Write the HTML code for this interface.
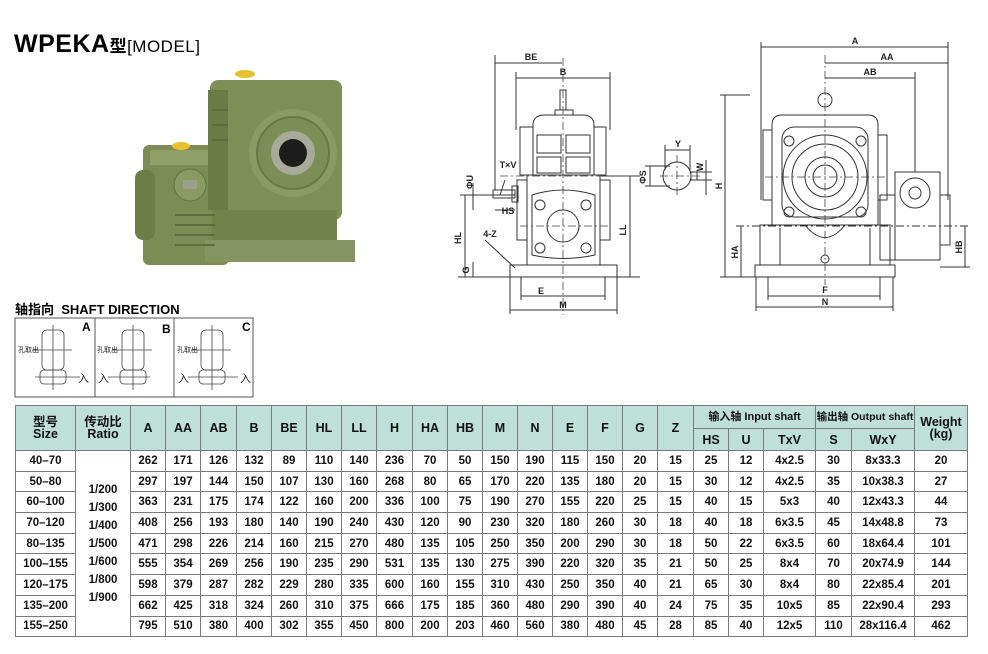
<!DOCTYPE html>
<html><head><meta charset="utf-8"><style>
body{margin:0;background:#fff;width:988px;height:654px;position:relative;overflow:hidden;font-family:"Liberation Sans","Noto Sans CJK SC",sans-serif;}
.t{position:absolute;}
table{position:absolute;left:15px;top:405px;border-collapse:collapse;table-layout:fixed;font-weight:bold;font-size:11.5px;color:#111;}
td{border:1px solid #7a7a7a;text-align:center;padding:0;height:19.7px;line-height:12px;}
tr.h td{background:#bfe0d8;font-size:12.5px;}
tr.h1 td{height:22px;}
tr.h2 td{height:21px;}
</style></head><body>
<div class="t" style="left:14px;top:30px;font-size:25px;font-weight:900;letter-spacing:0.5px;">WPEKA<span style="font-size:17px;font-weight:bold;">型</span><span style="font-size:17px;font-weight:normal;">[MODEL]</span></div>
<div class="t" style="left:15px;top:299px;font-size:13px;font-weight:bold;">轴指向&nbsp; SHAFT DIRECTION</div>

<svg class="t" style="left:0;top:0" width="988" height="400" viewBox="0 0 988 400">
<!-- photo -->
<g>
<rect x="143" y="145" width="86" height="120" rx="6" fill="#7d8c55"/>
<rect x="135" y="170" width="20" height="70" rx="8" fill="#6e7d48"/>
<rect x="150" y="150" width="75" height="15" fill="#90a066"/>
<rect x="210" y="80" width="132" height="140" rx="8" fill="#7e8e56"/>
<rect x="208" y="90" width="20" height="120" fill="#6c7a45"/>
<rect x="212" y="210" width="125" height="50" fill="#74834c"/>
<rect x="205" y="240" width="150" height="22" fill="#849460"/>
<circle cx="293" cy="153" r="44" fill="#8a9a62"/>
<circle cx="293" cy="153" r="36" fill="#7d8d56" stroke="#6a7844" stroke-width="2"/>
<circle cx="293" cy="153" r="22" fill="#a8ab9a"/>
<circle cx="293" cy="153" r="14" fill="#1d1d1a"/>
<circle cx="190" cy="185" r="16" fill="#8a9a62" stroke="#64723f"/>
<rect x="183" y="180" width="14" height="9" fill="#9b9f8c"/>
<g stroke="#5f6d3c" stroke-width="2"><line x1="175" y1="215" x2="215" y2="215"/><line x1="175" y1="225" x2="215" y2="225"/><line x1="175" y1="235" x2="215" y2="235"/><line x1="175" y1="245" x2="215" y2="245"/><line x1="212" y1="110" x2="228" y2="110"/><line x1="212" y1="125" x2="228" y2="125"/><line x1="212" y1="140" x2="228" y2="140"/></g>
<ellipse cx="245" cy="74" rx="10" ry="4" fill="#e8c030"/>
<ellipse cx="181" cy="146" rx="9" ry="4" fill="#e8c030"/>
</g>

<g fill="none" stroke="#333" stroke-width="1">
<!-- front view -->
<path d="M533 175 V125 Q533 115 545 115 H582 Q594 115 594 125 V175"/>
<rect x="555" y="110" width="18" height="5"/>
<rect x="560" y="90" width="6" height="20"/>
<rect x="520" y="127" width="13" height="48"/><rect x="594" y="127" width="12" height="48"/>
<rect x="537" y="135" width="24" height="18"/><rect x="566" y="135" width="24" height="18"/>
<rect x="537" y="157" width="24" height="16"/><rect x="566" y="157" width="24" height="16"/>
<rect x="527" y="175" width="73" height="90"/>
<rect x="517" y="180" width="10" height="60"/><rect x="600" y="180" width="10" height="60"/>
<path d="M532 195 Q563 185 595 195 V255 Q563 262 532 255 Z"/>
<circle cx="563" cy="226" r="16"/>
<circle cx="540" cy="205" r="5"/><circle cx="586" cy="205" r="5"/><circle cx="540" cy="248" r="5"/><circle cx="586" cy="248" r="5"/>
<rect x="493" y="190" width="22" height="8"/><rect x="512" y="186" width="6" height="16"/>
<rect x="510" y="265" width="107" height="12"/>
<!-- dims front -->
<line x1="495" y1="63" x2="562" y2="63"/><line x1="495" y1="55" x2="495" y2="190"/>
<line x1="516" y1="78" x2="610" y2="78"/><line x1="516" y1="72" x2="516" y2="130"/><line x1="610" y1="72" x2="610" y2="130"/>
<line x1="465" y1="195" x2="465" y2="277"/><line x1="460" y1="195" x2="515" y2="195"/>
<line x1="458" y1="277" x2="640" y2="277"/><line x1="630" y1="176" x2="630" y2="277"/><line x1="600" y1="176" x2="640" y2="176"/>
<line x1="521" y1="296" x2="605" y2="296"/><line x1="521" y1="277" x2="521" y2="300"/><line x1="605" y1="277" x2="605" y2="300"/>
<line x1="510" y1="310" x2="617" y2="310"/><line x1="510" y1="277" x2="510" y2="314"/><line x1="617" y1="277" x2="617" y2="314"/>
<line x1="473" y1="183" x2="473" y2="210"/><line x1="495" y1="210" x2="515" y2="210"/><line x1="485" y1="240" x2="515" y2="268"/><line x1="505" y1="180" x2="500" y2="195"/>
<line x1="473" y1="262" x2="473" y2="277"/>
<!-- key sketch -->
<circle cx="677" cy="176" r="14"/><rect x="691" y="172" width="6" height="8"/>
<line x1="665" y1="150" x2="690" y2="150"/><line x1="665" y1="145" x2="665" y2="170"/><line x1="690" y1="145" x2="690" y2="170"/>
<line x1="645" y1="166" x2="670" y2="166"/><line x1="645" y1="186" x2="670" y2="186"/><line x1="650" y1="166" x2="650" y2="186"/>
<line x1="706" y1="160" x2="706" y2="195"/><line x1="697" y1="172" x2="712" y2="172"/><line x1="697" y1="180" x2="712" y2="180"/>
<line x1="720" y1="95" x2="750" y2="95"/><line x1="725" y1="95" x2="725" y2="277"/><line x1="720" y1="277" x2="760" y2="277"/>
<!-- side view -->
<circle cx="825" cy="100" r="7"/>
<path d="M772 225 V125 Q772 115 782 115 H868 Q878 115 878 125 V225"/>
<rect x="763" y="130" width="9" height="70"/><rect x="878" y="135" width="9" height="65"/>
<rect x="782" y="127" width="86" height="90" rx="12"/>
<circle cx="825" cy="177" r="42"/><circle cx="825" cy="177" r="33"/><circle cx="825" cy="177" r="20"/><circle cx="825" cy="177" r="12"/>
<circle cx="789" cy="141" r="5"/><circle cx="861" cy="141" r="5"/><circle cx="789" cy="212" r="5"/><circle cx="861" cy="212" r="5"/>
<rect x="760" y="225" width="130" height="40"/><rect x="755" y="265" width="140" height="12"/>
<path d="M805 225 Q825 250 845 225"/><circle cx="825" cy="259" r="4"/>
<line x1="780" y1="228" x2="780" y2="265"/><line x1="870" y1="228" x2="870" y2="265"/>
<rect x="880" y="195" width="15" height="65"/>
<rect x="895" y="172" width="45" height="88"/><rect x="940" y="195" width="10" height="50"/>
<circle cx="915" cy="193" r="15"/><circle cx="915" cy="193" r="6"/>
<line x1="761" y1="47" x2="948" y2="47"/><line x1="761" y1="42" x2="761" y2="200"/><line x1="948" y1="42" x2="948" y2="200"/>
<line x1="825" y1="63" x2="948" y2="63"/><line x1="825" y1="78" x2="915" y2="78"/><line x1="915" y1="72" x2="915" y2="172"/>
<line x1="741" y1="226" x2="741" y2="277"/><line x1="736" y1="226" x2="970" y2="226" stroke-dasharray="8 3 2 3"/>
<line x1="965" y1="226" x2="965" y2="267"/><line x1="940" y1="267" x2="970" y2="267"/>
<line x1="768" y1="296" x2="880" y2="296"/><line x1="768" y1="277" x2="768" y2="300"/><line x1="880" y1="277" x2="880" y2="300"/>
<line x1="756" y1="307" x2="893" y2="307"/><line x1="756" y1="277" x2="756" y2="311"/><line x1="893" y1="277" x2="893" y2="311"/>
</g>
<g stroke="#444" stroke-width="0.8" stroke-dasharray="8 3 2 3" fill="none">
<line x1="563" y1="58" x2="563" y2="315"/><line x1="500" y1="176" x2="640" y2="176"/><line x1="520" y1="226" x2="610" y2="226"/>
<line x1="677" y1="155" x2="677" y2="198"/><line x1="660" y1="176" x2="700" y2="176"/>
<line x1="825" y1="55" x2="825" y2="285"/><line x1="765" y1="177" x2="885" y2="177"/>
</g>
<g font-family="Liberation Sans,sans-serif" font-size="9" font-weight="bold" fill="#222" text-anchor="middle">
<text x="531" y="60">BE</text><text x="563" y="75">B</text><text x="508" y="168">T×V</text><text x="508" y="214">HS</text>
<text x="490" y="237">4-Z</text><text x="541" y="294">E</text><text x="563" y="308">M</text><text x="678" y="147">Y</text>
<text x="855" y="44">A</text><text x="887" y="60">AA</text><text x="870" y="75">AB</text><text x="825" y="293">F</text><text x="825" y="305">N</text>
<text transform="translate(461,238) rotate(-90)">HL</text><text transform="translate(626,230) rotate(-90)">LL</text>
<text transform="translate(469,270) rotate(-90)">G</text><text transform="translate(473,182) rotate(-90)">ΦU</text>
<text transform="translate(646,177) rotate(-90)">ΦS</text><text transform="translate(703,167) rotate(-90)">W</text>
<text transform="translate(722,186) rotate(-90)">H</text><text transform="translate(738,252) rotate(-90)">HA</text><text transform="translate(962,247) rotate(-90)">HB</text>
</g>
<!-- shaft direction -->
<rect x="15" y="318" width="238" height="79" fill="none" stroke="#555"/>
<line x1="95" y1="318" x2="95" y2="397" stroke="#555"/><line x1="174" y1="318" x2="174" y2="397" stroke="#555"/>
<g font-family="Liberation Sans,sans-serif" font-size="12" font-weight="bold"><text x="82" y="331">A</text><text x="162" y="333">B</text><text x="242" y="331">C</text></g>
<g fill="none" stroke="#444" stroke-width="0.8">
<rect x="42" y="330" width="22" height="40" rx="5"/><rect x="40" y="370" width="26" height="14" rx="4"/><line x1="32" y1="350" x2="72" y2="350"/><line x1="53" y1="325" x2="53" y2="390"/><line x1="35" y1="377" x2="80" y2="377"/>
<rect x="122" y="330" width="22" height="40" rx="5"/><rect x="120" y="370" width="26" height="14" rx="4"/><line x1="112" y1="350" x2="152" y2="350"/><line x1="133" y1="325" x2="133" y2="390"/><line x1="108" y1="377" x2="150" y2="377"/>
<rect x="201" y="330" width="22" height="40" rx="5"/><rect x="199" y="370" width="26" height="14" rx="4"/><line x1="191" y1="350" x2="231" y2="350"/><line x1="212" y1="325" x2="212" y2="390"/><line x1="188" y1="377" x2="238" y2="377"/>
</g>
<g font-family="Liberation Sans,Noto Sans CJK SC,sans-serif" font-size="7" fill="#222"><text x="18" y="352">孔取出</text><text x="97" y="352">孔取出</text><text x="177" y="352">孔取出</text></g>
<g font-family="Liberation Sans,Noto Sans CJK SC,sans-serif" font-size="11" fill="#222"><text x="78" y="382">入</text><text x="98" y="382">入</text><text x="178" y="382">入</text><text x="240" y="382">入</text></g>
</svg>

<table>
<colgroup><col style="width:60px"><col style="width:55px"><col style="width:35px"><col style="width:35px"><col style="width:36px"><col style="width:35px"><col style="width:35px"><col style="width:35px"><col style="width:35px"><col style="width:36px"><col style="width:35px"><col style="width:35px"><col style="width:35px"><col style="width:35px"><col style="width:35px"><col style="width:35px"><col style="width:35px"><col style="width:36px"><col style="width:35px"><col style="width:35px"><col style="width:52px"><col style="width:36px"><col style="width:63px"><col style="width:53px"></colgroup>
<tr class="h h1"><td rowspan="2">型号<br>Size</td><td rowspan="2">传动比<br>Ratio</td><td rowspan="2">A</td><td rowspan="2">AA</td><td rowspan="2">AB</td><td rowspan="2">B</td><td rowspan="2">BE</td><td rowspan="2">HL</td><td rowspan="2">LL</td><td rowspan="2">H</td><td rowspan="2">HA</td><td rowspan="2">HB</td><td rowspan="2">M</td><td rowspan="2">N</td><td rowspan="2">E</td><td rowspan="2">F</td><td rowspan="2">G</td><td rowspan="2">Z</td><td colspan="3" style="font-size:11px">输入轴 Input shaft</td><td colspan="2" style="font-size:10.5px">输出轴 Output shaft</td><td rowspan="2">Weight<br>(kg)</td></tr>
<tr class="h h2"><td>HS</td><td>U</td><td>TxV</td><td>S</td><td>WxY</td></tr>
<tr><td>40–70</td><td rowspan="9" style="vertical-align:middle;line-height:18px;padding-top:0">1/200<br>1/300<br>1/400<br>1/500<br>1/600<br>1/800<br>1/900</td><td>262</td><td>171</td><td>126</td><td>132</td><td>89</td><td>110</td><td>140</td><td>236</td><td>70</td><td>50</td><td>150</td><td>190</td><td>115</td><td>150</td><td>20</td><td>15</td><td>25</td><td>12</td><td>4x2.5</td><td>30</td><td>8x33.3</td><td>20</td></tr>
<tr><td>50–80</td><td>297</td><td>197</td><td>144</td><td>150</td><td>107</td><td>130</td><td>160</td><td>268</td><td>80</td><td>65</td><td>170</td><td>220</td><td>135</td><td>180</td><td>20</td><td>15</td><td>30</td><td>12</td><td>4x2.5</td><td>35</td><td>10x38.3</td><td>27</td></tr>
<tr><td>60–100</td><td>363</td><td>231</td><td>175</td><td>174</td><td>122</td><td>160</td><td>200</td><td>336</td><td>100</td><td>75</td><td>190</td><td>270</td><td>155</td><td>220</td><td>25</td><td>15</td><td>40</td><td>15</td><td>5x3</td><td>40</td><td>12x43.3</td><td>44</td></tr>
<tr><td>70–120</td><td>408</td><td>256</td><td>193</td><td>180</td><td>140</td><td>190</td><td>240</td><td>430</td><td>120</td><td>90</td><td>230</td><td>320</td><td>180</td><td>260</td><td>30</td><td>18</td><td>40</td><td>18</td><td>6x3.5</td><td>45</td><td>14x48.8</td><td>73</td></tr>
<tr><td>80–135</td><td>471</td><td>298</td><td>226</td><td>214</td><td>160</td><td>215</td><td>270</td><td>480</td><td>135</td><td>105</td><td>250</td><td>350</td><td>200</td><td>290</td><td>30</td><td>18</td><td>50</td><td>22</td><td>6x3.5</td><td>60</td><td>18x64.4</td><td>101</td></tr>
<tr><td>100–155</td><td>555</td><td>354</td><td>269</td><td>256</td><td>190</td><td>235</td><td>290</td><td>531</td><td>135</td><td>130</td><td>275</td><td>390</td><td>220</td><td>320</td><td>35</td><td>21</td><td>50</td><td>25</td><td>8x4</td><td>70</td><td>20x74.9</td><td>144</td></tr>
<tr><td>120–175</td><td>598</td><td>379</td><td>287</td><td>282</td><td>229</td><td>280</td><td>335</td><td>600</td><td>160</td><td>155</td><td>310</td><td>430</td><td>250</td><td>350</td><td>40</td><td>21</td><td>65</td><td>30</td><td>8x4</td><td>80</td><td>22x85.4</td><td>201</td></tr>
<tr><td>135–200</td><td>662</td><td>425</td><td>318</td><td>324</td><td>260</td><td>310</td><td>375</td><td>666</td><td>175</td><td>185</td><td>360</td><td>480</td><td>290</td><td>390</td><td>40</td><td>24</td><td>75</td><td>35</td><td>10x5</td><td>85</td><td>22x90.4</td><td>293</td></tr>
<tr><td>155–250</td><td>795</td><td>510</td><td>380</td><td>400</td><td>302</td><td>355</td><td>450</td><td>800</td><td>200</td><td>203</td><td>460</td><td>560</td><td>380</td><td>480</td><td>45</td><td>28</td><td>85</td><td>40</td><td>12x5</td><td>110</td><td>28x116.4</td><td>462</td></tr>
</table>
</body></html>
